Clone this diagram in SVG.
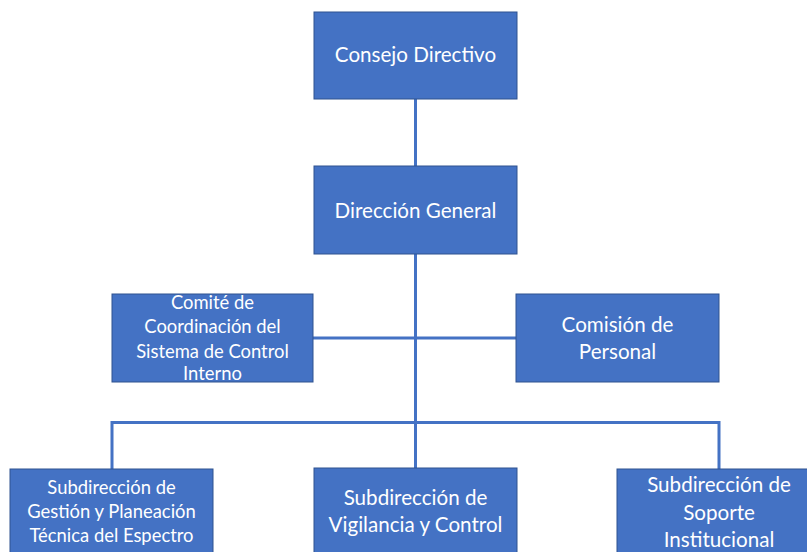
<svg xmlns="http://www.w3.org/2000/svg" width="807" height="552" viewBox="0 0 807 552">
<style>
.box{fill:#4472C4;stroke:#2F528F;stroke-width:1}
.t{fill:#FFFFFF;font-family:Lato,"Open Sans","Liberation Sans",sans-serif;text-anchor:middle;font-size:20.6px}
.s{font-size:18.4px}
.c{fill:none;stroke:#4472C4;stroke-width:3}
</style>
<rect width="807" height="552" fill="#FFFFFF"/>
<g id="connectors">
<line class="c" x1="415.5" y1="99" x2="415.5" y2="166"/>
<line class="c" x1="415.5" y1="254" x2="415.5" y2="468"/>
<line class="c" x1="313" y1="338" x2="516" y2="338"/>
<polyline class="c" points="112,469 112,422.5 719,422.5 719,469"/>
</g>
<g id="consejo">
<rect class="box" x="314" y="12" width="203" height="87"/>
<text class="t" x="415.5" y="62">Consejo Directivo</text>
</g>
<g id="direccion">
<rect class="box" x="314" y="166" width="203" height="88"/>
<text class="t" x="415.5" y="218">Dirección General</text>
</g>
<g id="comite">
<rect class="box" x="112" y="294" width="201" height="88"/>
<text class="t s" x="212.5" y="309">Comité de</text>
<text class="t s" x="212.5" y="333">Coordinación del</text>
<text class="t s" x="212.5" y="357.5">Sistema de Control</text>
<text class="t s" x="212.5" y="380">Interno</text>
</g>
<g id="comision">
<rect class="box" x="516" y="294" width="203" height="88"/>
<text class="t" x="617.5" y="331.5">Comisión de</text>
<text class="t" x="617.5" y="359">Personal</text>
</g>
<g id="sub-gestion">
<rect class="box" x="10" y="469" width="203" height="90"/>
<text class="t s" x="111.5" y="494">Subdirección de</text>
<text class="t s" x="111.5" y="518">Gestión y Planeación</text>
<text class="t s" x="111.5" y="542">Técnica del Espectro</text>
</g>
<g id="sub-vigilancia">
<rect class="box" x="314" y="468" width="203" height="90"/>
<text class="t" x="415.5" y="504.5">Subdirección de</text>
<text class="t" x="415.5" y="532">Vigilancia y Control</text>
</g>
<g id="sub-soporte">
<rect class="box" x="617" y="469" width="204" height="90"/>
<text class="t" x="719" y="492">Subdirección de</text>
<text class="t" x="719" y="520">Soporte</text>
<text class="t" x="719" y="547">Institucional</text>
</g>
</svg>
